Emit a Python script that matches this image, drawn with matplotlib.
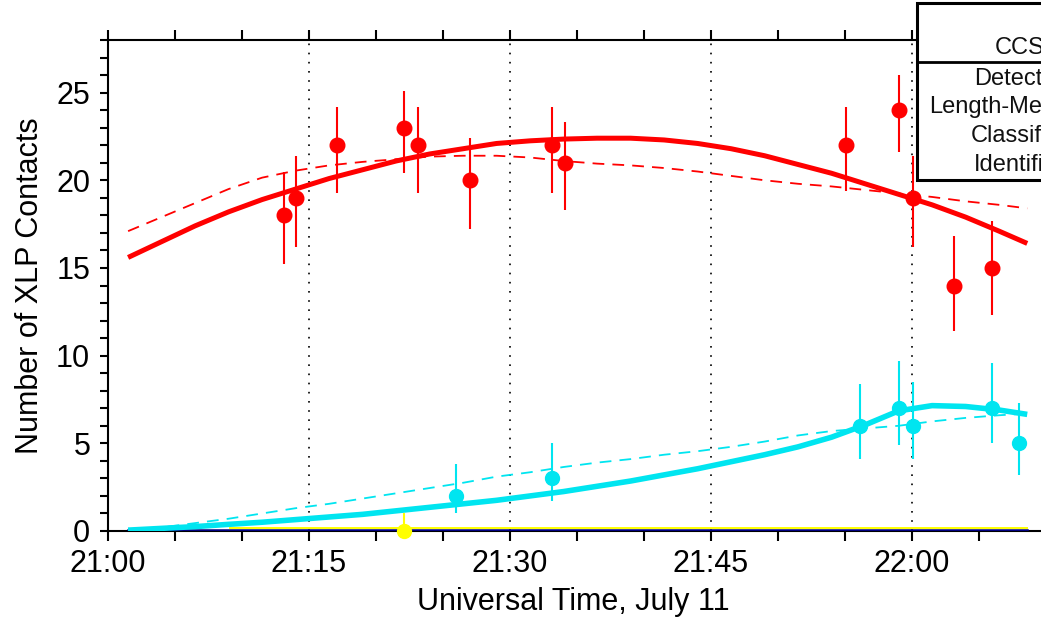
import numpy as np
import matplotlib
matplotlib.use("Agg")
from matplotlib import pyplot as plt
from matplotlib.patches import Rectangle
from matplotlib.lines import Line2D

plt.rcParams['font.family'] = ['Liberation Sans', 'DejaVu Sans']

# time axis in minutes after 21:00 UT
tick_min = [0, 15, 30, 45, 60]
tick_labels = ["21:00", "21:15", "21:30", "21:45", "22:00"]

# detected contacts (red)
red_t = [13.1, 14.0, 17.1, 22.1, 23.1, 27.0, 33.1, 34.1, 55.1, 59.0, 60.1, 63.1, 66.0]
red_n = [18, 19, 22, 23, 22, 20, 22, 21, 22, 24, 19, 14, 15]
red_lo = [2.8, 2.8, 2.7, 2.6, 2.7, 2.8, 2.7, 2.7, 2.6, 2.4, 2.8, 2.6, 2.7]
red_hi = [2.5, 2.4, 2.2, 2.1, 2.2, 2.4, 2.2, 2.3, 2.2, 2.0, 2.4, 2.8, 2.7]

# classified contacts (cyan)
cyan_t = [26.0, 33.1, 56.1, 59.0, 60.1, 66.0, 68.0]
cyan_n = [2, 3, 6, 7, 6, 7, 5]
cyan_lo = [1.0, 1.3, 1.9, 2.1, 1.9, 2.0, 1.8]
cyan_hi = [1.8, 2.0, 2.4, 2.7, 2.5, 2.6, 2.3]

# identified contacts (yellow)
yel_t = [22.1]
yel_n = [0]
yel_lo = [1.0]
yel_hi = [1.0]

# fitted trends, sampled every 2.5 minutes
fit_t = [1.5, 4, 6.5, 9, 11.5, 14, 16.5, 19, 21.5, 24, 26.5, 29, 31.5, 34,
         36.5, 39, 41.5, 44, 46.5, 49, 51.5, 54, 56.5, 59, 61.5, 64, 66.5, 68.6]
red_fit = [15.6, 16.5, 17.4, 18.2, 18.9, 19.5, 20.1, 20.6, 21.1, 21.5, 21.8, 22.1, 22.25, 22.35,
           22.4, 22.4, 22.3, 22.1, 21.8, 21.4, 20.9, 20.4, 19.8, 19.2, 18.6, 17.9, 17.1, 16.4]
red_smooth = [17.1, 17.9, 18.7, 19.5, 20.15, 20.55, 20.85, 21.05, 21.2, 21.35, 21.4, 21.4, 21.3, 21.1,
              20.95, 20.85, 20.7, 20.5, 20.25, 20.0, 19.8, 19.65, 19.45, 19.25, 19.05, 18.8, 18.6, 18.4]
cyan_fit = [0.05, 0.15, 0.25, 0.38, 0.5, 0.65, 0.8, 0.95, 1.15, 1.35, 1.55, 1.75, 2.0, 2.25,
            2.55, 2.85, 3.2, 3.55, 3.95, 4.35, 4.8, 5.35, 6.05, 6.85, 7.15, 7.1, 6.9, 6.65]
cyan_smooth = [0.0, 0.2, 0.45, 0.7, 1.0, 1.3, 1.55, 1.85, 2.15, 2.45, 2.75, 3.1, 3.35, 3.65,
               3.9, 4.1, 4.35, 4.55, 4.8, 5.1, 5.45, 5.7, 5.85, 6.0, 6.25, 6.45, 6.6, 6.7]

blue_t = [1.5, 68.6]
blue_fit = [0.06, 0.06]
yel_fit_t = [9.1, 68.6]
yel_fit = [0.17, 0.17]

legend_rows = ["Detected", "Length-Measured", "Classified", "Identified"]

RED = "#ff0000"
CYAN = "#00e5f0"
YELLOW = "#ffff00"
NAVY = "#000080"

W, H = 1041, 620
fig = plt.figure(figsize=(W / 100, H / 100), dpi=100)
ax = fig.add_axes([108 / W, (H - 531) / H, (1113 - 108) / W, (531 - 40) / H])

ax.set_xlim(0, 75)
ax.set_ylim(0, 28)

for t in [15, 30, 45, 60]:
    ax.axvline(t, color="black", lw=1.2, ls=(0, (1, 4.5)), zorder=1)

ax.plot(blue_t, blue_fit, color=NAVY, lw=1.8, zorder=2.6)
ax.plot(yel_fit_t, yel_fit, color=YELLOW, lw=1.4, zorder=2.6)

ax.plot(fit_t, cyan_smooth, color=CYAN, lw=1.3, dashes=(6.5, 4.5), zorder=3)
ax.plot(fit_t, cyan_fit, color=CYAN, lw=4.0, zorder=3, solid_capstyle="butt")
ax.plot(fit_t, red_smooth, color=RED, lw=1.3, dashes=(6.5, 4.5), zorder=3)
ax.plot(fit_t, red_fit, color=RED, lw=3.6, zorder=3, solid_capstyle="butt")

ax.errorbar(red_t, red_n, yerr=[red_lo, red_hi], fmt="o", color=RED, ms=10.5,
            elinewidth=1.5, capsize=0, zorder=4)
ax.errorbar(cyan_t, cyan_n, yerr=[cyan_lo, cyan_hi], fmt="o", color=CYAN, ms=10,
            elinewidth=1.5, capsize=0, zorder=4)
ax.errorbar(yel_t, yel_n, yerr=[yel_lo, yel_hi], fmt="none", ecolor=YELLOW,
            elinewidth=1.5, capsize=0, zorder=4)
ax.plot(yel_t, yel_n, "o", color=YELLOW, ms=10, zorder=5, clip_on=False)

ax.set_xticks(tick_min)
ax.set_xticklabels(tick_labels)
ax.set_xticks(np.arange(0, 76, 5), minor=True)
ax.set_yticks([0, 5, 10, 15, 20, 25])
ax.set_yticks(np.arange(0, 29, 1), minor=True)

ax.tick_params(axis="x", which="both", direction="out", length=7.2, width=1.5,
               top=True, labelsize=22, pad=6)
ax.tick_params(axis="y", which="both", direction="out", length=5.8, width=1.5,
               labelsize=22, pad=7)
for s in ax.spines.values():
    s.set_linewidth(1.5)

ax.set_ylabel("Number of XLP Contacts", fontsize=22, labelpad=8)
ax.set_xlabel("Universal Time, July 11", fontsize=22, labelpad=4)
ax.xaxis.set_label_coords((573 - 108) / (1113 - 108), -0.115)

# key box in the upper right corner
def fx(px):
    return px / W

def fy(py):
    return 1 - py / H

box = Rectangle((fx(917), fy(180)), fx(400), fy(3) - fy(180), transform=fig.transFigure,
                facecolor="white", edgecolor="black", lw=2.2, zorder=10)
fig.add_artist(box)
fig.add_artist(Line2D([fx(917), fx(1300)], [fy(62), fy(62)], transform=fig.transFigure,
                      color="black", lw=2.0, zorder=11))
fig.text(fx(1020), fy(48), "CCS", ha="center", va="center", fontsize=17, color="#111111", zorder=12)
for i, row in enumerate(legend_rows):
    fig.text(fx(1022), fy(79 + i * 28.5), row, ha="center", va="center", fontsize=17,
             color="#111111", zorder=12)

fig.savefig("out.png", dpi=100)
